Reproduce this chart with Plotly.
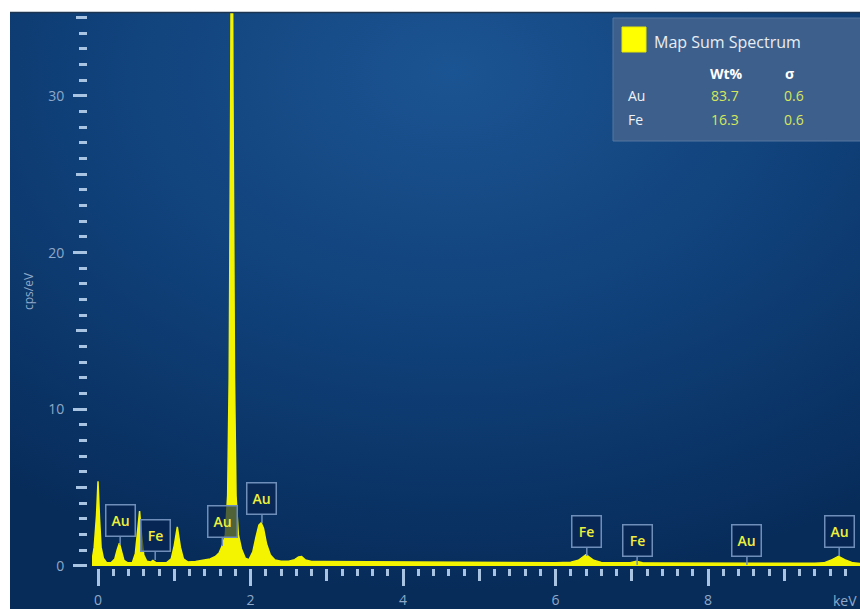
import base64
import plotly.graph_objects as go

# ---------------- data ----------------
energy_kev = [-0.08, -0.05, -0.02, 0.0, 0.02, 0.04, 0.07, 0.11, 0.17, 0.22, 0.25, 0.28, 0.31, 0.34, 0.39,
              0.45, 0.49, 0.52, 0.545, 0.57, 0.60, 0.64, 0.69, 0.72, 0.76, 0.82, 0.90, 0.96, 1.00, 1.04,
              1.08, 1.12, 1.18, 1.28, 1.38, 1.47, 1.54, 1.59, 1.63, 1.67, 1.70, 1.72, 1.74, 1.755, 1.77,
              1.79, 1.81, 1.84, 1.88, 1.93, 1.98, 2.03, 2.07, 2.11, 2.14, 2.17, 2.21, 2.26, 2.32, 2.40,
              2.50, 2.58, 2.63, 2.67, 2.72, 2.80, 2.95, 3.20, 3.60, 4.00, 4.50, 5.00, 5.50, 6.00, 6.20,
              6.30, 6.40, 6.50, 6.60, 6.80, 6.98, 7.06, 7.14, 7.40, 7.80, 8.20, 8.60, 9.00, 9.40, 9.52,
              9.61, 9.71, 9.81, 9.90, 10.0]
counts_cps = [0.3, 1.2, 3.2, 5.4, 3.0, 1.2, 0.5, 0.22, 0.2, 0.45, 1.0, 1.45, 0.9, 0.35, 0.2,
              0.2, 0.8, 2.2, 3.5, 2.0, 0.7, 0.3, 0.25, 0.35, 0.22, 0.2, 0.22, 0.45, 1.3, 2.5,
              1.2, 0.45, 0.25, 0.28, 0.35, 0.45, 0.6, 0.85, 1.3, 2.0, 4.5, 12.0, 30.0, 50.0, 30.0,
              12.0, 4.5, 2.0, 1.1, 0.5, 0.4, 0.9, 1.8, 2.6, 2.75, 2.4, 1.4, 0.7, 0.38, 0.3,
              0.3, 0.4, 0.58, 0.6, 0.38, 0.28, 0.28, 0.27, 0.26, 0.25, 0.24, 0.23, 0.22, 0.21, 0.24,
              0.36, 0.72, 0.36, 0.22, 0.2, 0.2, 0.3, 0.2, 0.19, 0.18, 0.18, 0.17, 0.17, 0.17, 0.2,
              0.36, 0.62, 0.36, 0.2, 0.16]

label_elements = ["Au", "Fe", "Au", "Au", "Fe", "Fe", "Au", "Au"]
label_kev = [0.29, 0.75, 1.63, 2.15, 6.41, 7.07, 8.51, 9.72]
label_tip_cps = [1.34, 0.38, 1.28, 2.74, 0.64, 0.06, 0.06, 0.64]

table_elements = ["Au", "Fe"]
table_wt = ["83.7", "16.3"]
table_sigma = ["0.6", "0.6"]

x_major_ticks = [0, 2, 4, 6, 8]
x_mid_ticks = [1, 3, 5, 7, 9]
y_major_ticks = [0, 10, 20, 30]
y_mid_ticks = [5, 15, 25, 35]

# ---------------- layout geometry ----------------
W, H = 860, 609
ML, MR, MT, MB = 75, 0, 12, 41
PW, PH = W - ML - MR, H - MT - MB


def px_x(p):
    return (p - ML) / PW


def px_y(p):
    return (H - MB - p) / PH


X_RANGE = [-0.079, 9.993]
Y_RANGE = [-0.13, 35.36]

TICK_COL = "#a9c3e2"
LABEL_COL = "#8ea9c9"
YELLOW = "#f4f400"
FONT = "Open Sans, Noto Sans, sans-serif"

# background gradient as svg
svg = ("<svg xmlns='http://www.w3.org/2000/svg' width='850' height='597' preserveAspectRatio='none'>"
       "<defs><radialGradient id='g' cx='0.52' cy='0.12' r='0.85' fx='0.52' fy='0.1'>"
       "<stop offset='0' stop-color='#1b5492'/><stop offset='0.55' stop-color='#0f3f77'/>"
       "<stop offset='1' stop-color='#072c5a'/></radialGradient></defs>"
       "<rect width='850' height='597' fill='url(#g)'/></svg>")
bg_uri = "data:image/svg+xml;base64," + base64.b64encode(svg.encode()).decode()

fig = go.Figure()
fig.add_trace(go.Scatter(
    x=energy_kev, y=counts_cps, mode="lines", fill="tozeroy",
    line=dict(color=YELLOW, width=1.5), fillcolor=YELLOW, hoverinfo="skip", showlegend=False))
# dummy trace to activate secondary axes (medium-length ticks)
fig.add_trace(go.Scatter(x=[None], y=[None], xaxis="x2", yaxis="y2", showlegend=False))

fig.update_layout(
    width=W, height=H,
    margin=dict(l=ML, r=MR, t=MT, b=MB, pad=0),
    paper_bgcolor="white", plot_bgcolor="rgba(0,0,0,0)",
    font=dict(family=FONT, color=LABEL_COL),
    xaxis=dict(domain=[px_x(92), 1], range=X_RANGE, showgrid=False, zeroline=False, showline=False,
               tickmode="array", tickvals=x_major_ticks, ticks="outside", ticklen=17, tickwidth=3,
               tickcolor=TICK_COL, tickfont=dict(size=14, color=LABEL_COL),
               minor=dict(dtick=0.2, tick0=0, ticks="outside", ticklen=7, tickwidth=3, tickcolor=TICK_COL,
                          showgrid=False),
               ticklabelstandoff=2, fixedrange=True),
    xaxis2=dict(domain=[px_x(92), 1], range=X_RANGE, overlaying="x", anchor="y", side="bottom",
                showgrid=False, zeroline=False, showline=False, tickmode="array", tickvals=x_mid_ticks,
                ticks="outside", ticklen=12, tickwidth=3, tickcolor=TICK_COL, showticklabels=False),
    yaxis=dict(range=Y_RANGE, anchor="free", position=px_x(87), showgrid=False, zeroline=False,
               showline=False, tickmode="array", tickvals=y_major_ticks, ticks="outside", ticklen=14,
               tickwidth=3, tickcolor=TICK_COL, tickfont=dict(size=14, color=LABEL_COL),
               minor=dict(dtick=1, tick0=0, ticks="outside", ticklen=8, tickwidth=3, tickcolor=TICK_COL,
                          showgrid=False),
               ticklabelstandoff=6, fixedrange=True),
    yaxis2=dict(range=Y_RANGE, overlaying="y", anchor="free", position=px_x(87), side="left",
                showgrid=False, zeroline=False, showline=False, tickmode="array", tickvals=y_mid_ticks,
                ticks="outside", ticklen=11, tickwidth=3, tickcolor=TICK_COL, showticklabels=False),
)

fig.add_layout_image(dict(source=bg_uri, xref="paper", yref="paper", x=px_x(10), y=px_y(12),
                          sizex=px_x(860) - px_x(10), sizey=px_y(12) - px_y(609),
                          xanchor="left", yanchor="top", sizing="stretch", layer="below"))

shapes = [
    dict(type="line", xref="paper", yref="paper", x0=px_x(10), x1=px_x(860), y0=px_y(12.5), y1=px_y(12.5),
         line=dict(color="#1d3550", width=1.5)),
    # legend panel
    dict(type="rect", xref="paper", yref="paper", x0=px_x(613), x1=px_x(862), y0=px_y(141), y1=px_y(18),
         fillcolor="#3d5f8b", line=dict(color="#56779f", width=1)),
    dict(type="rect", xref="paper", yref="paper", x0=px_x(622), x1=px_x(646), y0=px_y(52), y1=px_y(27),
         fillcolor="#ffff00", line=dict(color="#e8e800", width=1)),
]
fig.update_layout(shapes=shapes)

ann = []
# element labels
for el, xk, yt in zip(label_elements, label_kev, label_tip_cps):
    ann.append(dict(x=xk, y=yt, xref="x", yref="y", text=el, showarrow=True, arrowhead=0,
                    arrowwidth=1.5, arrowcolor="#6f8fba", ax=0, ay=-8, xanchor="center", yanchor="bottom",
                    font=dict(size=14, color="#eef03c", family=FONT, weight=600),
                    bgcolor="rgba(8,36,80,0.7)", bordercolor="#6f8fba", borderwidth=1.5, borderpad=2,
                    width=24, height=26))

# legend texts
ann.append(dict(x=px_x(652), y=px_y(42), xref="paper", yref="paper", text="Map Sum Spectrum",
                showarrow=False, xanchor="left", yanchor="middle",
                font=dict(size=16, color="#e8edf4", family=FONT)))
ann.append(dict(x=px_x(708), y=px_y(73), xref="paper", yref="paper", text="<b>Wt%</b>",
                showarrow=False, xanchor="left", yanchor="middle",
                font=dict(size=14, color="#ffffff", family=FONT)))
ann.append(dict(x=px_x(783), y=px_y(73), xref="paper", yref="paper", text="<b>σ</b>",
                showarrow=False, xanchor="left", yanchor="middle",
                font=dict(size=14, color="#ffffff", family=FONT)))
for i, (el, wt, sg) in enumerate(zip(table_elements, table_wt, table_sigma)):
    yy = px_y(96 + 23 * i)
    ann.append(dict(x=px_x(626), y=yy, xref="paper", yref="paper", text=el, showarrow=False,
                    xanchor="left", yanchor="middle",
                    font=dict(size=14, color="#eef2f7", family=FONT)))
    ann.append(dict(x=px_x(709), y=yy, xref="paper", yref="paper", text=wt, showarrow=False,
                    xanchor="left", yanchor="middle",
                    font=dict(size=14, color="#d6e85a", family=FONT)))
    ann.append(dict(x=px_x(782), y=yy, xref="paper", yref="paper", text=sg, showarrow=False,
                    xanchor="left", yanchor="middle",
                    font=dict(size=14, color="#d6e85a", family=FONT)))

# axis titles
ann.append(dict(x=px_x(28), y=px_y(291), xref="paper", yref="paper", text="cps/eV", showarrow=False,
                textangle=-90, xanchor="center", yanchor="middle",
                font=dict(size=12, color=LABEL_COL, family=FONT)))
ann.append(dict(x=px_x(859), y=px_y(600), xref="paper", yref="paper", text="keV", showarrow=False,
                xanchor="right", yanchor="middle",
                font=dict(size=14, color=LABEL_COL, family=FONT)))
fig.update_layout(annotations=ann)

fig.write_html("out.html", config={"displayModeBar": False},
               post_script="document.body.style.margin='0';document.body.style.overflow='hidden';")
